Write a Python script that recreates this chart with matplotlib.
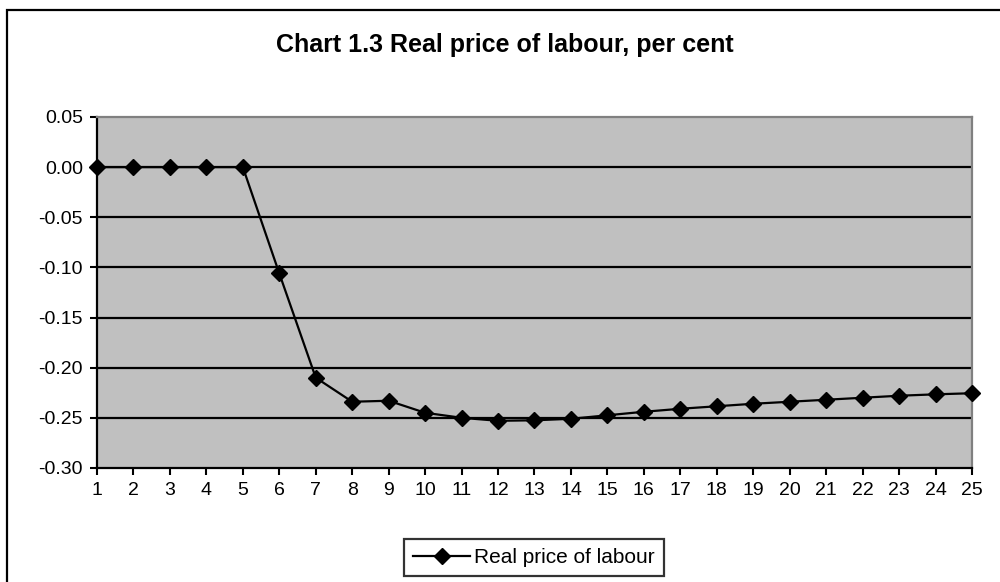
import matplotlib.pyplot as plt
from matplotlib.patches import Rectangle

plt.rcParams['font.family'] = ['Liberation Sans', 'DejaVu Sans']

periods = list(range(1, 26))
real_price = [0.0, 0.0, 0.0, 0.0, 0.0, -0.106, -0.210, -0.234, -0.233, -0.245,
              -0.250, -0.253, -0.2525, -0.251, -0.2475, -0.244, -0.241, -0.2385,
              -0.236, -0.234, -0.232, -0.230, -0.228, -0.2266, -0.2255]
yticks = [0.05, 0.0, -0.05, -0.10, -0.15, -0.20, -0.25, -0.30]

fig = plt.figure(figsize=(10, 5.82), dpi=100)
ax = fig.add_axes([0.097, 0.196, 0.875, 0.603])
ax.set_facecolor('#c0c0c0')

for y in yticks[1:-1]:
    ax.axhline(y, color='black', lw=1.6, zorder=1)

ax.plot(periods, real_price, color='black', lw=1.6, marker='D', ms=7.8,
        label='Real price of labour', zorder=3, clip_on=False)

ax.set_xlim(1, 25)
ax.set_ylim(-0.30, 0.05)
ax.set_xticks(periods)
ax.set_yticks(yticks)
ax.set_yticklabels(['%.2f' % v for v in yticks])
ax.tick_params(labelsize=14, direction='out', length=5, width=1.5, color='black')
ax.tick_params(axis='x', pad=5)
ax.tick_params(axis='y', pad=5)

ax.spines['left'].set_linewidth(1.6)
ax.spines['bottom'].set_linewidth(1.6)
ax.spines['top'].set_color('#808080')
ax.spines['right'].set_color('#808080')
ax.spines['top'].set_linewidth(1.6)
ax.spines['right'].set_linewidth(1.6)

fig.text(0.505, 1 - 45 / 582, 'Chart 1.3 Real price of labour, per cent',
         ha='center', va='center', fontsize=18, fontweight='bold')

leg = fig.legend(loc='center', bbox_to_anchor=(0.534, 1 - 557.5 / 582),
                 fontsize=15, frameon=True, fancybox=False, handlelength=2.7,
                 borderpad=0.45, handletextpad=0.2, edgecolor='black')
leg.get_frame().set_linewidth(1.6)

fig.patches.append(Rectangle((0.007, -0.05), 1.2, 1 - 10 / 582 + 0.05,
                             transform=fig.transFigure, fill=False,
                             edgecolor='black', lw=1.6, clip_on=False))

plt.savefig('out.png', dpi=100)
